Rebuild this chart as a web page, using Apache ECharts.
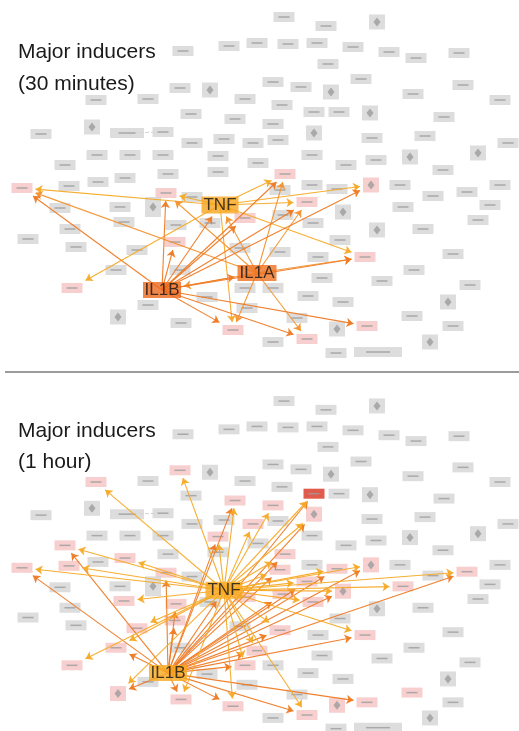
<!DOCTYPE html>
<html><head><meta charset="utf-8">
<script src="https://cdn.jsdelivr.net/npm/echarts@6/dist/echarts.min.js"></script>
<style>html,body{margin:0;padding:0;background:#fff}#c{width:519px;height:731px}</style>
</head><body><div id="c"></div>
<script>
// ---- data (layout units of the 30-minute panel) ----
const nodeX = [183,229,257,284,326,377,288,317,353,389,416,459,328,180,210,245,96,148,191,235,
  273,301,331,361,413,463,500,41,92,127,163,192,224,253,282,314,339,370,444,273,
  314,278,372,425,508,97,130,163,218,65,218,168,125,98,69,258,312,346,376,410,
  478,443,285,312,371,400,500,22,166,192,60,120,153,124,70,28,76,137,176,210,
  175,245,116,72,180,148,118,181,207,233,245,247,240,337,280,307,343,403,433,467,
  490,478,313,377,423,340,283,280,318,365,453,322,382,414,470,273,308,343,448,412,
  367,453,297,337,307,273,430,336,378];
const nodeY = [51,46,43,17,26,22,44,43,47,52,58,53,64,88,90,99,100,99,114,119,
  82,87,92,79,94,85,100,134,127,133,132,143,139,143,105,112,112,113,117,124,
  133,140,138,136,143,155,155,155,156,165,172,174,178,182,186,163,155,165,160,157,
  153,170,174,185,185,185,185,188,193,197,208,207,207,222,229,239,247,250,225,223,
  242,218,270,288,270,305,317,323,297,330,288,308,248,189,190,202,212,207,196,192,
  205,220,223,230,229,240,215,252,257,257,254,278,281,270,285,288,296,302,302,316,
  326,326,318,329,339,342,342,353,352];
const nodeKind = ['r','r','r','r','r','s','r','r','r','r','r','r','r','r','s','r','r','r','r','r',
  'r','r','s','r','r','r','r','r','s','w','r','r','r','r','r','r','r','s','r','r',
  's','r','r','r','r','r','r','r','r','r','r','r','r','r','r','r','r','r','r','s',
  's','r','r','r','s','r','r','r','r','r','r','r','t','r','r','r','r','r','r','r',
  'r','r','r','r','r','r','s','r','r','r','r','r','r','r','r','r','s','r','r','r',
  'r','r','r','s','r','r','r','r','r','r','r','r','r','r','r','r','r','r','s','r',
  'r','r','r','s','r','r','s','r','x'];
const dashedPairs = [[29,30]];

const hubNames = ['TNF','IL1B','IL1A'];
const hubXTop = [220,162,257];
const hubYTop = [205,290,273];
const hubXBottom = [224,168,257];
const hubYBottom = [211,296,273];

const pinkTop = [67,68,80,81,83,89,62,64,95,109,120,124];
const pinkBottom = [16,13,19,33,48,40,39,49,52,54,67,68,73,78,77,80,82,83,86,87,89,90,81,62,94,93,64,99,97,95,96,106,102,107,109,123,120,119,124];
const redBottom = [35];

const tnfTargetsTop  = [67,68,83,62,64,95,109,89,81];
const il1bTargetsTop = [67,68,80,'TNF',81,89,62,64,95,109,120,124,'IL1A'];
const il1aTargetsTop = [67,68,'TNF','IL1B',95,109,124,89,62];

const tnfTargetsBottom  = [16,13,19,33,48,35,40,39,49,52,54,67,73,77,83,82,86,87,89,90,62,94,93,64,99,97,95,96,109,124,107,102,'IL1A'];
const il1bTargetsBottom = [19,48,35,40,49,67,68,78,80,82,86,87,89,90,120,64,99,93,95,96,106,109,124,107,'TNF','IL1A',62,94];

// ---- styles ----
const kindSize = {r:[21,10], s:[16,15], t:[16,20], w:[34,10], x:[48,10]};
const hubSize = {TNF:[37,17], IL1B:[38,16], IL1A:[39,16]};
const GRAY='#d5d5d5', PINK='#f5c3c3', RED='#d8321f';
const EDGE_DARK='#ef7a24', EDGE_LIGHT='#f6aa26', EDGE_MID='#f29330';
const Y_SCALE_BOTTOM = 0.975;

function hubPos(name, panel){
  const i = hubNames.indexOf(name);
  return panel===0 ? [hubXTop[i],hubYTop[i]] : [hubXBottom[i],hubYBottom[i]];
}
function targetInfo(t, panel){
  if (typeof t === 'string') {
    if (panel===1 && t==='IL1A') return {p:hubPos(t,panel), s:kindSize.r};
    return {p:hubPos(t,panel), s:hubSize[t]};
  }
  return {p:[nodeX[t],nodeY[t]], s:kindSize[nodeKind[t]]};
}
function edge(src, t, panel, color){
  const s = hubPos(src, panel);
  const ti = targetInfo(t, panel);
  const dx = ti.p[0]-s[0], dy = ti.p[1]-s[1];
  const hw = ti.s[0]/2+3, hh = ti.s[1]/2+3;
  const k = Math.min(dx? hw/Math.abs(dx):1e9, dy? hh/Math.abs(dy):1e9);
  return {coords:[s,[ti.p[0]-dx*k, ti.p[1]-dy*k]], lineStyle:{color:color}};
}

function panelSeries(panel){
  const pink = panel===0 ? pinkTop : pinkBottom;
  const red = panel===0 ? [] : redBottom;
  const nodes = [], marks = [];
  for (let i=0;i<nodeX.length;i++){
    let c = GRAY;
    if (pink.includes(i)) c = PINK;
    if (red.includes(i)) c = RED;
    const k = nodeKind[i];
    nodes.push({value:[nodeX[i],nodeY[i]], symbolSize:kindSize[k], itemStyle:{color:c}});
    if (k==='s' || k==='t') marks.push({value:[nodeX[i],nodeY[i]], symbol:'diamond', symbolSize:[7,9]});
    else marks.push({value:[nodeX[i],nodeY[i]], symbol:'rect', symbolSize:[Math.round(kindSize[k][0]*0.5),1.5]});
  }
  if (panel===1){
    nodes.push({value:hubPos('IL1A',1), symbolSize:kindSize.r, itemStyle:{color:PINK}});
    marks.push({value:hubPos('IL1A',1), symbol:'rect', symbolSize:[10,1.5]});
  }
  const edges = [];
  if (panel===0){
    tnfTargetsTop.forEach(t=>edges.push(edge('TNF',t,0,EDGE_LIGHT)));
    il1aTargetsTop.forEach(t=>edges.push(edge('IL1A',t,0,EDGE_MID)));
    il1bTargetsTop.forEach(t=>edges.push(edge('IL1B',t,0,EDGE_DARK)));
  } else {
    il1bTargetsBottom.forEach(t=>edges.push(edge('IL1B',t,1,EDGE_DARK)));
    tnfTargetsBottom.forEach(t=>edges.push(edge('TNF',t,1,EDGE_LIGHT)));
  }
  const dashed = dashedPairs.map(p=>({coords:[[nodeX[p[0]],nodeY[p[0]]],[nodeX[p[1]],nodeY[p[1]]]]}));
  const hubs = [];
  const hubColorsTop = {TNF:'#f7a51e', IL1B:'#ec681b', IL1A:'#ef701e'};
  const hubList = panel===0 ? ['TNF','IL1B','IL1A'] : ['TNF','IL1B'];
  hubList.forEach(h=>hubs.push({name:h, value:hubPos(h,panel), symbolSize:hubSize[h],
    itemStyle:{color: panel===0 ? hubColorsTop[h] : '#f8a91f'}}));
  const ax = {xAxisIndex:panel, yAxisIndex:panel};
  return [
    Object.assign({type:'lines', coordinateSystem:'cartesian2d', data:dashed, z:1,
      lineStyle:{color:'#aaa', width:1, type:'dashed'}, symbol:['none','none'], silent:true}, ax),
    Object.assign({type:'scatter', symbol:'rect', data:nodes, z:2, silent:true}, ax),
    Object.assign({type:'scatter', data:marks, z:3, silent:true, itemStyle:{color:'#9c9c9c'}}, ax),
    Object.assign({type:'lines', coordinateSystem:'cartesian2d', data:edges, z:4, silent:true,
      symbol:['none','arrow'], symbolSize:7, lineStyle:{width:1.1, opacity:0.95}}, ax),
    Object.assign({type:'scatter', symbol:'rect', data:hubs, z:5, silent:true,
      label:{show:true, position:'inside', formatter:'{b}', color:'#141414', fontSize:17,
        fontFamily:'Liberation Sans, Arial, sans-serif'}}, ax)
  ];
}

const bottomTop = 384.5, bottomHeight = 731 - 384.5;
const chart = echarts.init(document.getElementById('c'), null, {renderer:'canvas'});
chart.setOption({
  animation:false,
  backgroundColor:'#fff',
  title:[
    {text:'Major inducers\n(30 minutes)', left:13, top:31,
      textStyle:{fontSize:21, fontWeight:'normal', color:'#1a1a1a', lineHeight:32, fontFamily:'Liberation Sans, Arial, sans-serif'}},
    {text:'Major inducers\n(1 hour)', left:13, top:411,
      textStyle:{fontSize:21, fontWeight:'normal', color:'#1a1a1a', lineHeight:31, fontFamily:'Liberation Sans, Arial, sans-serif'}}
  ],
  grid:[
    {left:0, top:0, width:519, height:370},
    {left:0, top:bottomTop, width:519, height:bottomHeight}
  ],
  xAxis:[
    {type:'value', min:0, max:519, show:false, gridIndex:0},
    {type:'value', min:0, max:519, show:false, gridIndex:1}
  ],
  yAxis:[
    {type:'value', min:0, max:370, inverse:true, show:false, gridIndex:0},
    {type:'value', min:0, max:bottomHeight/Y_SCALE_BOTTOM, inverse:true, show:false, gridIndex:1}
  ],
  graphic:[{type:'line', shape:{x1:5,y1:372,x2:519,y2:372}, style:{stroke:'#7a7a7a', lineWidth:1.5}, z:10}],
  series: panelSeries(0).concat(panelSeries(1))
});
</script></body></html>
